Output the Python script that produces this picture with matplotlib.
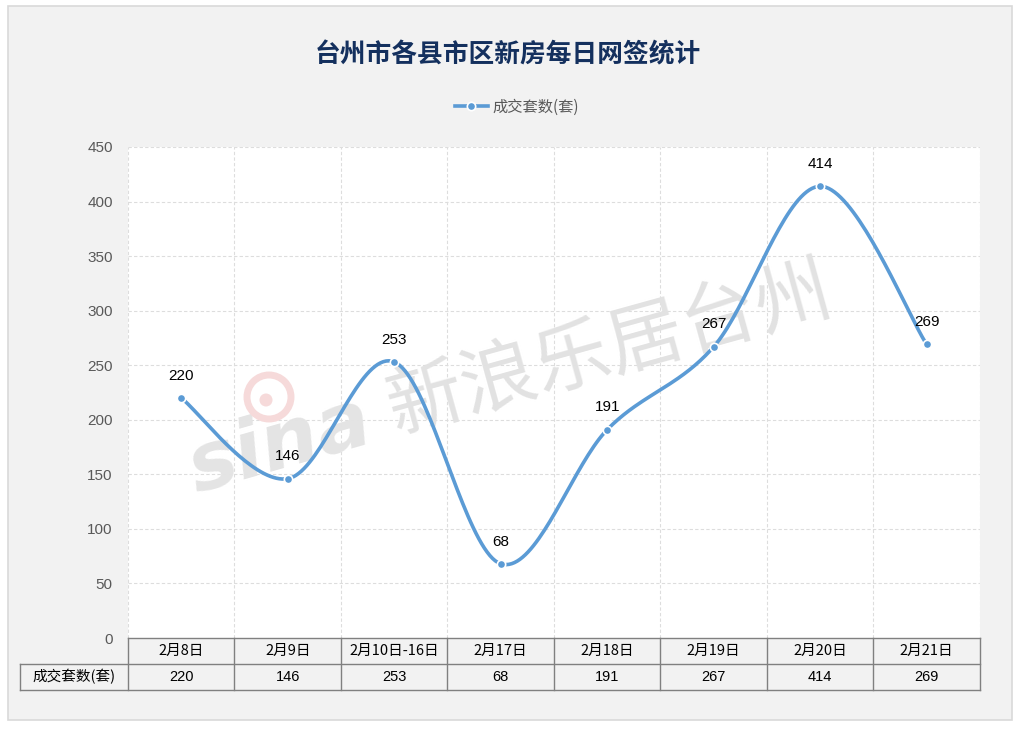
import numpy as np
import matplotlib
matplotlib.use("Agg")
import matplotlib.pyplot as plt
from matplotlib.patches import Rectangle, Ellipse
from matplotlib.lines import Line2D
from matplotlib.transforms import blended_transform_factory

plt.rcParams['font.family'] = ['Noto Sans CJK SC', 'DejaVu Sans']

title = "台州市各县市区新房每日网签统计"
series_name = "成交套数(套)"
categories = ["2月8日", "2月9日", "2月10日-16日", "2月17日", "2月18日", "2月19日", "2月20日", "2月21日"]
values = [220, 146, 253, 68, 191, 267, 414, 269]
yticks = [0, 50, 100, 150, 200, 250, 300, 350, 400, 450]

W, H = 1020, 729
fig = plt.figure(figsize=(W / 100, H / 100), dpi=100)
fig.patch.set_facecolor("white")

def fx(px):
    return px / W

def fy(py):
    return 1 - py / H

# chart area background
fig.add_artist(Rectangle((fx(8), fy(720)), fx(1012) - fx(8), fy(6) - fy(720),
                         transform=fig.transFigure, facecolor="#F2F2F2",
                         edgecolor="#D9D9D9", linewidth=1.2, zorder=0))

AX_L, AX_R, AX_T, AX_B = 128, 980, 147, 638
ax = fig.add_axes([fx(AX_L), fy(AX_B), fx(AX_R) - fx(AX_L), fy(AX_T) - fy(AX_B)])
ax.set_facecolor("white")

def ax_frac(px, py):
    return (px - AX_L) / (AX_R - AX_L), (AX_B - py) / (AX_B - AX_T)

n = len(categories)
x = np.arange(n)
ax.set_xlim(-0.5, n - 0.5)
ax.set_ylim(0, 450)
ax.set_yticks(yticks)
ax.set_yticklabels([str(t) for t in yticks], fontsize=11, color="#595959",
                   family=['Liberation Sans', 'DejaVu Sans'])
ax.set_xticks([])
ax.tick_params(axis='y', length=0, pad=11)
for s in ax.spines.values():
    s.set_visible(False)

# grid
for yv in yticks[1:]:
    ax.axhline(yv, color="#DDDDDD", lw=0.8, ls=(0, (3, 2)), zorder=1)
for xb in np.arange(-0.5, n - 0.4, 1.0):
    ax.axvline(xb, color="#DDDDDD", lw=0.8, ls=(0, (3, 2)), zorder=1)

# watermark
ax.text(0.566, 0.589, "新浪乐居台州", transform=ax.transAxes, fontsize=55,
        color="#E2E2E2", rotation=15.5, ha="center", va="center", zorder=2)
ax.text(0.178, 0.39, "sina", transform=ax.transAxes, fontsize=58, fontweight="bold",
        style="italic", family=['DejaVu Sans'],
        color="#E4E4E4", rotation=16, ha="center", va="center", zorder=2)
ax.add_patch(Ellipse(ax_frac(269, 397), 44 / 852, 44 / 491,
                     transform=ax.transAxes, facecolor="none", edgecolor="#F6DADA",
                     lw=5, zorder=2))
ax.add_patch(Ellipse(ax_frac(266, 400), 13 / 852, 13 / 491,
                     transform=ax.transAxes, facecolor="#F6DADA", edgecolor="none",
                     zorder=2))

# smooth curve (Catmull-Rom / Excel-like bezier)
pts = np.column_stack([x, values]).astype(float)
curve = []
for i in range(n - 1):
    p0 = pts[i - 1] if i > 0 else pts[i]
    p1 = pts[i]
    p2 = pts[i + 1]
    p3 = pts[i + 2] if i + 2 < n else pts[i + 1]
    c1 = p1 + (p2 - p0) / 6.0
    c2 = p2 - (p3 - p1) / 6.0
    t = np.linspace(0, 1, 40)[:, None]
    seg = ((1 - t) ** 3) * p1 + 3 * ((1 - t) ** 2) * t * c1 + 3 * (1 - t) * t ** 2 * c2 + t ** 3 * p2
    curve.append(seg if i == 0 else seg[1:])
curve = np.vstack(curve)
line_color = "#5B9BD5"
ax.plot(curve[:, 0], curve[:, 1], color=line_color, lw=2.6, zorder=3, solid_capstyle="round")
ax.plot(x, values, ls="none", marker="o", ms=6, mfc=line_color, mec="white", mew=1.2, zorder=4)

for xi, v in zip(x, values):
    ax.annotate(str(v), (xi, v), xytext=(0, 16), textcoords="offset points",
                ha="center", va="center", fontsize=11, color="black", zorder=5,
                family=['Liberation Sans', 'DejaVu Sans'])

# title
fig.text(fx(508), fy(55), title, ha="center", va="center", fontsize=18.5,
         fontweight="bold", color="#14305E")

# legend
handle = Line2D([], [], color=line_color, lw=2.6, marker="o", ms=6, mfc=line_color,
                mec="white", mew=1.2)
fig.legend([handle], [series_name], loc="center", bbox_to_anchor=(fx(517), fy(107)),
           frameon=False, fontsize=11, handlelength=2.2, handletextpad=0.3,
           labelcolor="#595959")

# data table
tr = blended_transform_factory(ax.transData, fig.transFigure)
tc = "#808080"
y0, y1, y2 = fy(638), fy(664), fy(690)
left_x = -0.5 - 108 / 106.5
lines = [
    ((-0.5, n - 0.5), (y0, y0)),
    ((left_x, n - 0.5), (y1, y1)),
    ((left_x, n - 0.5), (y2, y2)),
    ((left_x, left_x), (y1, y2)),
]
for xb in np.arange(-0.5, n - 0.4, 1.0):
    lines.append(((xb, xb), (y0, y2)))
for xs, ys in lines:
    fig.add_artist(Line2D(xs, ys, transform=tr, color=tc, lw=1.0))

for xi, c, v in zip(x, categories, values):
    fig.text(xi, (y0 + y1) / 2, c, transform=tr, ha="center", va="center",
             fontsize=10.5, color="black")
    fig.text(xi, (y1 + y2) / 2, str(v), transform=tr, ha="center", va="center",
             fontsize=10.5, color="black", family=['Liberation Sans', 'DejaVu Sans'])
fig.text((left_x - 0.5) / 2, (y1 + y2) / 2, series_name, transform=tr, ha="center",
         va="center", fontsize=10.5, color="black")

fig.savefig("out.png", dpi=100)
